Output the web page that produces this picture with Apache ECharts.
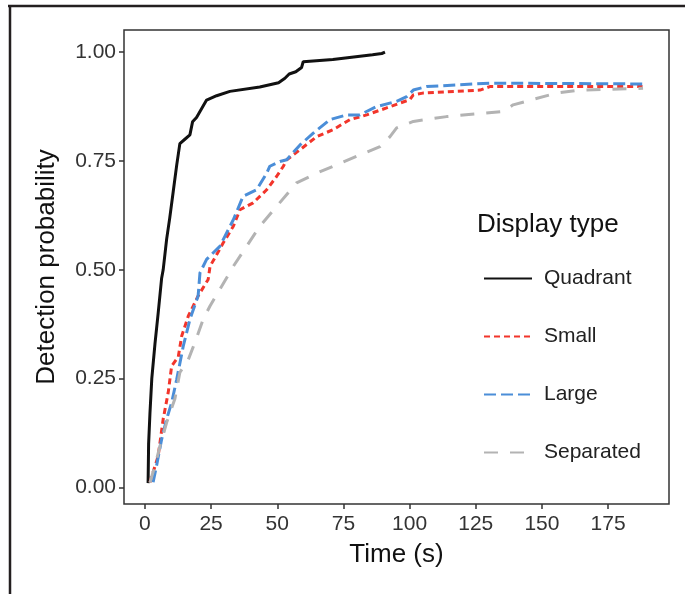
<!DOCTYPE html>
<html>
<head>
<meta charset="utf-8">
<script src="https://cdn.jsdelivr.net/npm/echarts@6/dist/echarts.min.js"></script>
<style>
html,body{margin:0;padding:0;background:#fff;}
#chart{width:685px;height:594px;}
</style>
</head>
<body>
<div id="chart"></div>
<script>
// ---- data ----
const xTicks = [0, 25, 50, 75, 100, 125, 150, 175];
const yTicks = [0, 0.25, 0.5, 0.75, 1.0];

const quadrantT = [1.2, 1.4, 1.9, 2.6, 3.8, 5.0, 6.3, 6.9, 8.2, 9.4, 10.7, 12.0, 13.2, 15.1, 17.0, 18.0, 19.5, 21.4, 23.3, 27.1, 32.1, 43.4, 50.5, 52.9, 54.5, 57.0, 59.2, 59.8, 71.0, 86.0, 89.5, 90.7];
const quadrantP = [0.01, 0.10, 0.17, 0.25, 0.33, 0.40, 0.48, 0.50, 0.57, 0.62, 0.68, 0.74, 0.79, 0.80, 0.81, 0.84, 0.85, 0.87, 0.89, 0.90, 0.91, 0.92, 0.93, 0.94, 0.95, 0.955, 0.965, 0.978, 0.983, 0.994, 0.997, 1.0];

const smallT = [1.9, 5.0, 6.9, 8.8, 10.1, 12.6, 13.9, 16.4, 20.1, 23.9, 24.6, 29.6, 33.4, 35.9, 40.9, 46.0, 49.8, 52.3, 53.6, 58.6, 64.9, 71.1, 77.4, 83.8, 91.3, 96.3, 100.1, 101.4, 105.0, 126.6, 130.3, 188.0];
const smallP = [0.012, 0.072, 0.157, 0.218, 0.279, 0.30, 0.348, 0.394, 0.44, 0.478, 0.508, 0.562, 0.60, 0.638, 0.654, 0.684, 0.715, 0.738, 0.753, 0.776, 0.806, 0.822, 0.845, 0.856, 0.872, 0.883, 0.891, 0.902, 0.906, 0.913, 0.921, 0.921];

const largeT = [3.1, 4.4, 6.3, 8.2, 10.1, 12.0, 14.5, 17.0, 20.1, 20.8, 23.3, 28.3, 33.4, 37.1, 42.2, 46.0, 47.2, 51.0, 53.6, 58.6, 63.6, 69.9, 76.2, 81.2, 87.5, 95.1, 98.9, 101.4, 106.4, 130.3, 188.0];
const largeP = [0.012, 0.05, 0.11, 0.157, 0.195, 0.248, 0.325, 0.386, 0.44, 0.493, 0.524, 0.554, 0.615, 0.669, 0.684, 0.722, 0.738, 0.749, 0.753, 0.787, 0.814, 0.845, 0.856, 0.856, 0.875, 0.887, 0.898, 0.913, 0.921, 0.929, 0.927];

const separatedT = [1.9, 3.8, 5.7, 8.2, 11.3, 13.2, 16.4, 18.9, 22.0, 24.6, 28.3, 33.4, 38.4, 43.4, 49.8, 57.3, 64.9, 71.1, 80.0, 88.8, 92.6, 95.1, 101.4, 114.0, 135.3, 139.1, 155.5, 164.3, 188.2];
const separatedP = [0.011, 0.05, 0.095, 0.149, 0.203, 0.264, 0.294, 0.333, 0.386, 0.417, 0.455, 0.508, 0.554, 0.60, 0.646, 0.70, 0.722, 0.738, 0.761, 0.783, 0.806, 0.826, 0.841, 0.852, 0.864, 0.879, 0.906, 0.913, 0.917];

const seriesNames = ['Quadrant', 'Small', 'Large', 'Separated'];

// ---- build ----
function pairs(t, p) { return t.map((v, i) => [v, p[i]]); }
const FONT = '"Liberation Sans", Arial, sans-serif';

const styles = [
  { color: '#111111', type: 'solid' },
  { color: '#f2352b', type: [6, 4] },
  { color: '#4b8ed8', type: [12, 5] },
  { color: '#b3b3b3', type: [14, 12] }
];
const datasets = [pairs(quadrantT, quadrantP), pairs(smallT, smallP), pairs(largeT, largeP), pairs(separatedT, separatedP)];

const chart = echarts.init(document.getElementById('chart'), null, { renderer: 'canvas' });
chart.setOption({
  animation: false,
  backgroundColor: '#ffffff',
  textStyle: { fontFamily: FONT },
  title: {
    text: 'Display type',
    left: 477, top: 212, padding: 0,
    textStyle: { fontFamily: FONT, fontSize: 26, fontWeight: 'normal', color: '#111' }
  },
  legend: {
    orient: 'vertical',
    left: 483, top: 268, padding: 0,
    itemWidth: 48, itemHeight: 14, itemGap: 37,
    data: seriesNames,
    itemStyle: { color: 'rgba(0,0,0,0)', borderWidth: 0, opacity: 0 },
    textStyle: { fontFamily: FONT, fontSize: 21, color: '#222', padding: [0, 0, 0, 7] }
  },
  graphic: [
    { type: 'line', shape: { x1: 8, y1: 6, x2: 685, y2: 6 }, style: { stroke: '#231f20', lineWidth: 2.5 }, silent: true },
    { type: 'line', shape: { x1: 10, y1: 5, x2: 10, y2: 594 }, style: { stroke: '#231f20', lineWidth: 2.5 }, silent: true }
  ],
  grid: {
    left: 124, top: 30, right: 16, bottom: 90,
    show: true, borderColor: '#333', borderWidth: 1.5, backgroundColor: '#fff'
  },
  xAxis: {
    type: 'value', min: -7.9, max: 198,
    name: 'Time (s)', nameLocation: 'middle', nameGap: 38,
    nameTextStyle: { fontFamily: FONT, fontSize: 26, color: '#111' },
    axisLine: { show: false, onZero: false },
    axisTick: { show: true, inside: false, length: 5, customValues: xTicks, lineStyle: { color: '#333', width: 1.5 } },
    axisLabel: { customValues: xTicks, margin: 10, fontFamily: FONT, fontSize: 21, color: '#333' },
    splitLine: { show: false }
  },
  yAxis: {
    type: 'value', min: -0.038, max: 1.051,
    name: 'Detection probability', nameLocation: 'middle', nameGap: 64,
    nameTextStyle: { fontFamily: FONT, fontSize: 26, color: '#111' },
    axisLine: { show: false, onZero: false },
    axisTick: { show: true, inside: false, length: 5, customValues: yTicks, lineStyle: { color: '#333', width: 1.5 } },
    axisLabel: { customValues: yTicks, margin: 8, fontFamily: FONT, fontSize: 21, color: '#333',
      formatter: v => v.toFixed(2) },
    splitLine: { show: false }
  },
  series: seriesNames.map((n, i) => ({
    name: n, type: 'line', data: datasets[i],
    symbol: 'none', showSymbol: false,
    lineStyle: { color: styles[i].color, width: 3, type: styles[i].type },
    itemStyle: { color: styles[i].color },
    z: 2 + i
  }))
});
</script>
</body>
</html>
